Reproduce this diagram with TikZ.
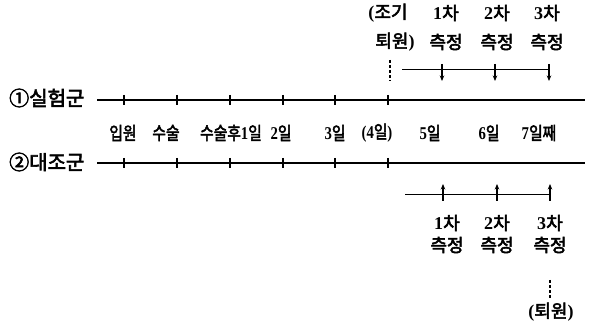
\documentclass[tikz,border=0pt]{standalone}
\usepackage{fontspec}
\usepackage{graphicx}
\setmainfont{Noto Sans CJK KR}[FakeBold=3]
\newfontfamily\latn{Liberation Serif}
\newcommand\dgt[1]{{\latn\bfseries #1}}
\newcommand\narrowtxt[1]{\scalebox{0.82}[1]{#1}}
\usetikzlibrary{arrows.meta}
\begin{document}
\begin{tikzpicture}[x=1pt,y=-1pt,
  lbl/.style={font=\fontsize{18}{18}\selectfont, inner sep=0pt},
  big/.style={font=\fontsize{18}{18}\selectfont, inner sep=0pt},
  grp/.style={font=\fontsize{20}{20}\selectfont, inner sep=0pt, anchor=west},
  axis/.style={line width=1.1pt},
  tick/.style={line width=1.7pt},
  meas/.style={line width=1pt},
  downtip/.style={-{Stealth[length=5.5pt,width=4.5pt]}, line width=1.2pt},
  guide/.style={line width=1.1pt, dash pattern=on 3pt off 2pt}]
\useasboundingbox (0,0) rectangle (590,331);

% group labels
\node[grp] (g1) at (9,98) {①실험군};
\node[grp] (g2) at (9,162) {②대조군};

% time axes
\coordinate (s1) at (97,100);  \coordinate (e1) at (585,100);
\coordinate (s2) at (97,163);  \coordinate (e2) at (585,163);
\draw[axis] (s1) -- (e1);
\draw[axis] (s2) -- (e2);

% plus-shaped tick marks on both axes
\foreach \x [count=\i] in {124,177,230,283,335,388} {
  \coordinate (ta\i) at (\x,95);  \coordinate (ba\i) at (\x,105);
  \coordinate (la\i) at (\x-5,100); \coordinate (ra\i) at (\x+5,100);
  \coordinate (tb\i) at (\x,158); \coordinate (bb\i) at (\x,168);
  \coordinate (lb\i) at (\x-5,163); \coordinate (rb\i) at (\x+5,163);
  \draw[tick] (ta\i) -- (ba\i) (la\i) -- (ra\i);
  \draw[tick] (tb\i) -- (bb\i) (lb\i) -- (rb\i);
}

% day labels (condensed)
\node[lbl] (d1) at (123,133) {\narrowtxt{입원}};
\node[lbl] (d2) at (166,133) {\narrowtxt{수술}};
\node[lbl] (d3) at (231,133) {\narrowtxt{수술후\dgt{1}일}};
\node[lbl] (d4) at (281,133) {\narrowtxt{\dgt{2}일}};
\node[lbl] (d5) at (335,133) {\narrowtxt{\dgt{3}일}};
\node[lbl] (d6) at (377,133) {\narrowtxt{\dgt{(4}일\dgt{)}}};
\node[lbl] (d7) at (430,133) {\narrowtxt{\dgt{5}일}};
\node[lbl] (d8) at (489,133) {\narrowtxt{\dgt{6}일}};
\node[lbl] (d9) at (539,133) {\narrowtxt{\dgt{7}일째}};

% measurements, experimental group
\node[big] (ea) at (388,13) {\dgt{(}조기};
\node[big] (eb) at (395,42) {퇴원\dgt{)}};
\node[big] (m1a) at (446,13) {\dgt{1}차};
\node[big] (m1b) at (446,42) {측정};
\node[big] (m2a) at (497,13) {\dgt{2}차};
\node[big] (m2b) at (497,42) {측정};
\node[big] (m3a) at (547,13) {\dgt{3}차};
\node[big] (m3b) at (547,42) {측정};

\coordinate (q0) at (390,60); \coordinate (q0e) at (390,81);
\draw[guide] (q0) -- (q0e);
\coordinate (h0) at (402,70);
\coordinate (h3) at (549,70);
\draw[meas] (h0) -- (h3);
\foreach \x [count=\i] in {442,495,549} {
  \coordinate (p\i) at (\x,64); \coordinate (r\i) at (\x,81);
  \draw[downtip] (p\i) -- (r\i);
}

% measurements, control group
\coordinate (k0) at (405,195);
\coordinate (k3) at (550,195);
\draw[meas] (k0) -- (k3);
\foreach \x [count=\i] in {443,497,550} {
  \coordinate (u\i) at (\x,201); \coordinate (v\i) at (\x,184);
  \draw[downtip] (u\i) -- (v\i);
}
\node[big] (c1a) at (447,223) {\dgt{1}차};
\node[big] (c1b) at (447,245) {측정};
\node[big] (c2a) at (497,223) {\dgt{2}차};
\node[big] (c2b) at (497,245) {측정};
\node[big] (c3a) at (550,223) {\dgt{3}차};
\node[big] (c3b) at (550,245) {측정};
\coordinate (z0) at (550,280); \coordinate (z1) at (550,298);
\draw[guide] (z0) -- (z1);
\node[big] (cr) at (551,312) {\dgt{(}퇴원\dgt{)}};
\end{tikzpicture}
\end{document}
